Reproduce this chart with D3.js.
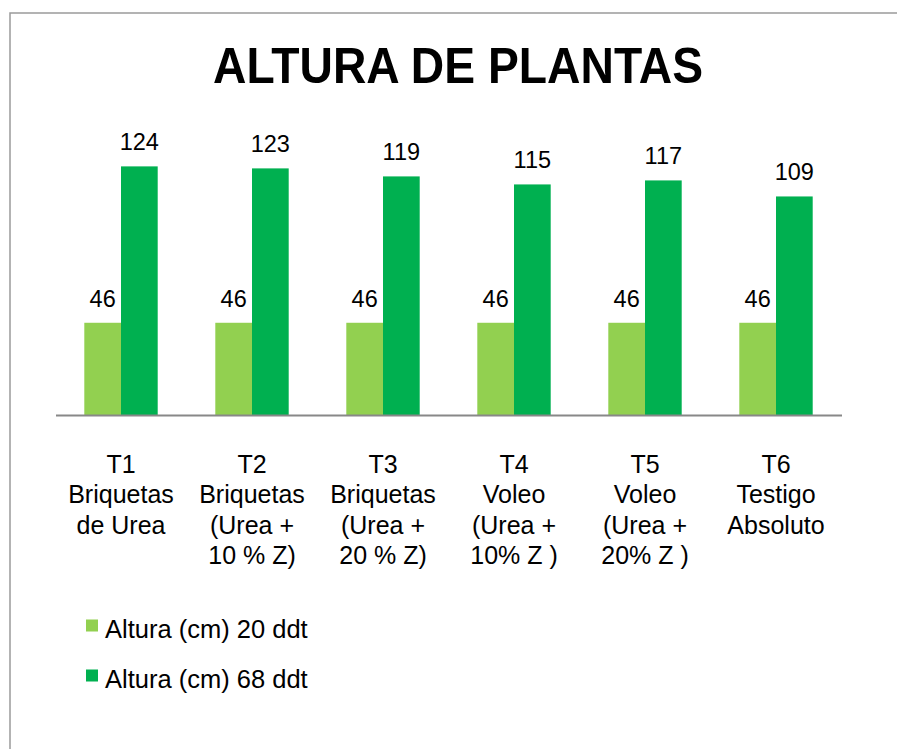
<!DOCTYPE html>
<html>
<head>
<meta charset="utf-8">
<script src="https://cdn.jsdelivr.net/npm/d3@7"></script>
<style>
  body { margin: 0; background: #fff; }
  svg { display: block; font-family: Arial, "Liberation Sans", sans-serif; }
</style>
</head>
<body>
<svg id="chart" width="897" height="749"></svg>
<script>
const categories = [
  ['T1', 'Briquetas', 'de Urea'],
  ['T2', 'Briquetas', '(Urea +', '10 % Z)'],
  ['T3', 'Briquetas', '(Urea +', '20 % Z)'],
  ['T4', 'Voleo', '(Urea +', '10% Z )'],
  ['T5', 'Voleo', '(Urea +', '20% Z )'],
  ['T6', 'Testigo', 'Absoluto']
];
const seriesNames = ['Altura (cm) 20 ddt', 'Altura (cm) 68 ddt'];
const altura20 = [46, 46, 46, 46, 46, 46];
const altura68 = [124, 123, 119, 115, 117, 109];
const colors = ['#92D050', '#00B050'];

const svg = d3.select('#chart');
const baseY = 415;

// outer frame (clipped at right and bottom)
svg.append('rect')
  .attr('x', 10).attr('y', 13)
  .attr('width', 900).attr('height', 760)
  .attr('fill', 'none')
  .attr('stroke', '#9a9a9a')
  .attr('stroke-width', 1.5);

svg.append('text')
  .attr('x', 458).attr('y', 82.5)
  .attr('text-anchor', 'middle')
  .attr('font-size', 50)
  .attr('font-weight', 'bold')
  .attr('textLength', 490)
  .attr('lengthAdjust', 'spacingAndGlyphs')
  .text('ALTURA DE PLANTAS');

const x0 = d3.scaleBand()
  .domain(d3.range(categories.length))
  .range([55.5, 841.5])
  .padding(0);

const x1 = d3.scaleBand()
  .domain([0, 1])
  .range([28.8, 102.2]);

const y = d3.scaleLinear().domain([0, 140]).range([baseY, baseY - 140 * 2.005]);

const rows = categories.map((c, i) => ({ i, vals: [altura20[i], altura68[i]] }));

const groups = svg.selectAll('g.grp')
  .data(rows)
  .join('g')
  .attr('class', 'grp')
  .attr('transform', d => 'translate(' + x0(d.i) + ',0)');

groups.selectAll('rect')
  .data(d => d.vals.map((v, s) => ({ v, s })))
  .join('rect')
  .attr('x', d => x1(d.s))
  .attr('width', x1.bandwidth())
  .attr('y', d => y(d.v))
  .attr('height', d => y(0) - y(d.v))
  .attr('fill', d => colors[d.s]);

groups.selectAll('text.val')
  .data(d => d.vals.map((v, s) => ({ v, s })))
  .join('text')
  .attr('class', 'val')
  .attr('x', d => x1(d.s) + x1.bandwidth() / 2)
  .attr('y', d => y(d.v) - 16)
  .attr('text-anchor', 'middle')
  .attr('font-size', 23.5)
  .attr('fill', '#000')
  .text(d => d.v);

// category axis
const xAxis = svg.append('g')
  .attr('transform', 'translate(0,' + baseY + ')')
  .call(d3.axisBottom(x0).tickSize(0).tickFormat(''));
xAxis.select('.domain').attr('stroke', '#888').attr('stroke-width', 2);

const labels = svg.selectAll('text.cat')
  .data(categories)
  .join('text')
  .attr('class', 'cat')
  .attr('text-anchor', 'middle')
  .attr('font-size', 25)
  .attr('fill', '#000');

labels.selectAll('tspan')
  .data((d, i) => d.map(line => ({ line, i })))
  .join('tspan')
  .attr('x', d => x0(d.i) + x0.bandwidth() / 2)
  .attr('y', (d, k) => 472.5 + k * 30.5)
  .text(d => d.line);

// legend
const legend = svg.selectAll('g.leg')
  .data(seriesNames)
  .join('g')
  .attr('class', 'leg')
  .attr('transform', (d, i) => 'translate(86,' + (619.5 + i * 50) + ')');

legend.append('rect')
  .attr('width', 12).attr('height', 12)
  .attr('fill', (d, i) => colors[i]);

legend.append('text')
  .attr('x', 19).attr('y', 18)
  .attr('font-size', 25.5)
  .attr('fill', '#000')
  .text(d => d);
</script>
</body>
</html>
